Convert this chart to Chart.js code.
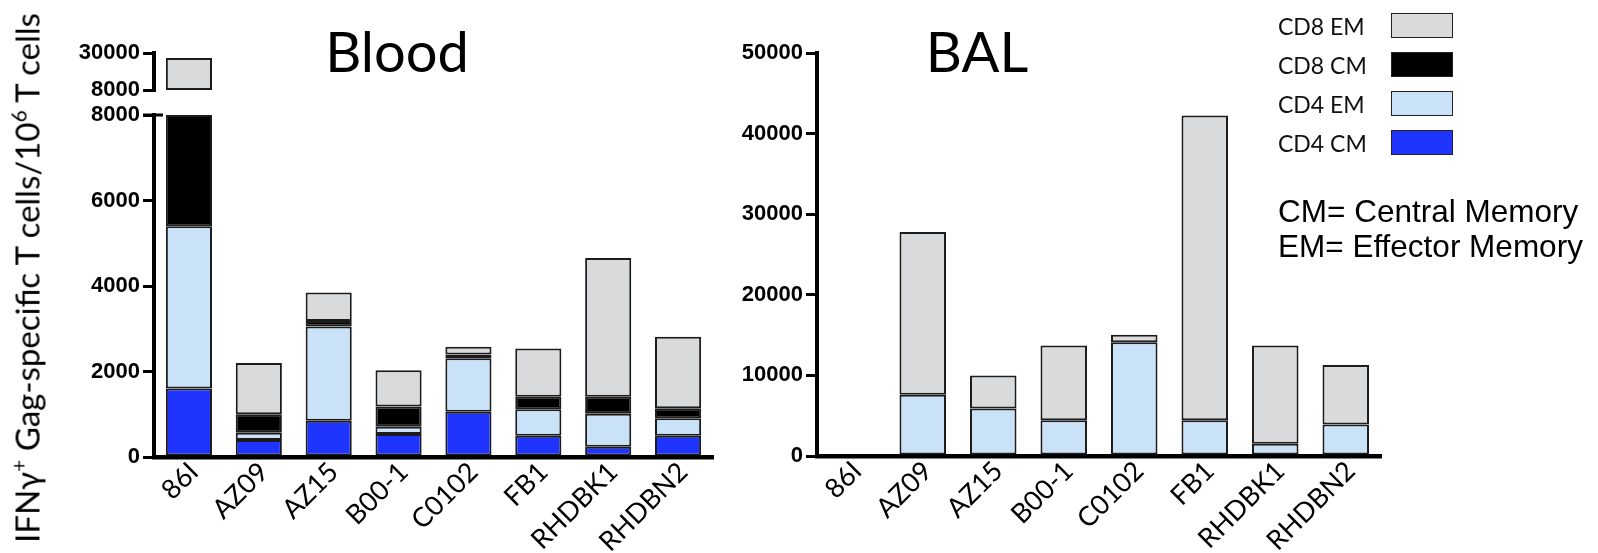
<!DOCTYPE html>
<html>
<head>
<meta charset="utf-8">
<script src="https://cdn.jsdelivr.net/npm/chart.js@4.4.1/dist/chart.umd.min.js"></script>
<style>
  html, body { margin: 0; padding: 0; background: #fff; }
  #wrap { position: relative; width: 1598px; height: 553px; overflow: hidden; background: #fff; }
  #wrap canvas { position: absolute; left: 0; top: 0; }
  .panel-title { position: absolute; font-family: Lato, "Noto Sans", sans-serif; font-size: 56px; color: #000; line-height: 1; white-space: nowrap; transform: translateX(-50%); }
  #ytitle { position: absolute; left: 27px; top: 278px; font-family: Lato, "Noto Sans", sans-serif; font-size: 33px; color: #000; white-space: nowrap; transform: translate(-50%, -50%) rotate(-90deg); line-height: 1; }
  #ytitle sup { font-size: 21px; vertical-align: 13px; line-height: 0; }
  #legend { position: absolute; left: 1278px; top: 13px; }
  .lg-row { position: relative; height: 39px; width: 180px; }
  .lg-row span { position: absolute; left: 0; top: 0; font-family: Lato, "Noto Sans", sans-serif; font-size: 23px; color: #111; line-height: 26px; white-space: nowrap; }
  .lg-row i { position: absolute; left: 113px; top: 0; width: 60px; height: 23px; border: 1.5px solid #222; display: block; }
  #notes { position: absolute; left: 1278px; top: 194px; font-family: "Liberation Sans", Arial, sans-serif; font-size: 31.5px; color: #000; line-height: 35px; white-space: nowrap; }
</style>
</head>
<body>
<div id="wrap">
  <canvas id="bloodLow" width="1598" height="553"></canvas>
  <canvas id="bloodHigh" width="1598" height="553"></canvas>
  <canvas id="bal" width="1598" height="553"></canvas>
  <div class="panel-title" style="left:397px; top:23px;">Blood</div>
  <div class="panel-title" style="left:977px; top:23px;">BAL</div>
  <div id="ytitle">IFNγ<sup>+</sup> Gag-specific T cells/10<sup>6</sup> T cells</div>
  <div id="legend"></div>
  <div id="notes">CM= Central Memory<br>EM= Effector Memory</div>
</div>
<script>
// Animal / isolate categories shared by both panels
const categories = ['86I', 'AZ09', 'AZ15', 'B00-1', 'C0102', 'FB1', 'RHDBK1', 'RHDBN2'];

// Blood: IFNγ+ Gag-specific cells per 10^6 T cells, by memory subset
const bloodCD4CM = [1600, 400, 850, 540, 1060, 500, 240, 500];
const bloodCD4EM = [3800, 170, 2200, 170, 1250, 615, 770, 405];
const bloodCD8CM = [2600, 430, 130, 470, 90, 295, 400, 235];
const bloodCD8EM = [19000, 1200, 670, 850, 180, 1130, 3245, 1670];

// BAL: same subsets
const balCD4CM = [0, 0, 0, 0, 0, 0, 0, 0];
const balCD4EM = [0, 7600, 5900, 4450, 14100, 4450, 1530, 3900];
const balCD8CM = [0, 0, 0, 0, 0, 0, 0, 0];
const balCD8EM = [0, 20200, 4100, 9250, 930, 37800, 12170, 7400];

// Axis ticks (Blood axis is broken between 8000 and 30000)
const bloodLowerTicks = [0, 2000, 4000, 6000, 8000];
const bloodUpperTicks = [8000, 30000];
const balTicks = [0, 10000, 20000, 30000, 40000, 50000];

const subsetNames = ['CD4 CM', 'CD4 EM', 'CD8 CM', 'CD8 EM'];
const subsetColors = ['#2034FF', '#C9E2F8', '#000000', '#D9DADB'];

const W = 1598, H = 553;
const Y_AXIS_W = 120;
const X_AXIS_H = 96;

// Short horizontal cap on the top of the lower Blood axis (axis-break marker)
const breakCap = {
  id: 'breakCap',
  afterDraw(chart, args, opts) {
    if (!opts.enabled) return;
    const { ctx, chartArea } = chart;
    ctx.save();
    ctx.strokeStyle = '#000';
    ctx.lineWidth = 3;
    ctx.beginPath();
    ctx.moveTo(chartArea.left - 11, chartArea.top);
    ctx.lineTo(chartArea.left + 9, chartArea.top);
    ctx.stroke();
    ctx.restore();
  }
};

function stackedSets(series) {
  return series.map((data, i) => ({
    label: subsetNames[i],
    data: data,
    backgroundColor: subsetColors[i],
    borderColor: '#1c1c1c',
    borderWidth: ctx => (ctx.raw ? 2 : 0),
    borderSkipped: false,
    stack: 's',
    clip: 0,
    categoryPercentage: 1,
    barPercentage: 0.66
  }));
}

function makeChart(id, series, area, yMin, yMax, yTicks, showX, cap) {
  const pad = {
    left: area.left - Y_AXIS_W,
    right: W - area.right,
    top: area.top,
    bottom: H - area.bottom - (showX ? X_AXIS_H : 0)
  };
  return new Chart(document.getElementById(id), {
    type: 'bar',
    data: { labels: categories, datasets: stackedSets(series) },
    plugins: [breakCap],
    options: {
      responsive: false,
      animation: false,
      devicePixelRatio: 1,
      layout: { padding: pad },
      plugins: { legend: { display: false }, tooltip: { enabled: false }, title: { display: false }, breakCap: { enabled: !!cap } },
      scales: {
        x: {
          display: showX,
          stacked: true,
          offset: true,
          afterFit: s => { if (showX) s.height = X_AXIS_H; },
          grid: { display: false },
          border: { display: true, width: 4.5, color: '#000' },
          ticks: {
            color: '#000',
            autoSkip: false,
            minRotation: 45,
            maxRotation: 45,
            padding: -9,
            labelOffset: 5,
            font: { family: 'Lato', size: 27 }
          }
        },
        y: {
          stacked: true,
          min: yMin,
          max: yMax,
          afterFit: s => { s.width = Y_AXIS_W; },
          afterBuildTicks: s => { s.ticks = yTicks.map(v => ({ value: v })); },
          grid: { display: true, drawOnChartArea: false, drawTicks: true, tickLength: 11, lineWidth: 3, color: '#000' },
          border: { display: true, width: 4, color: '#000' },
          ticks: {
            color: '#000',
            autoSkip: false,
            padding: 3,
            font: { family: 'Liberation Sans', size: 22, weight: 'bold' },
            callback: v => String(v)
          }
        }
      }
    }
  });
}

makeChart('bloodLow', [bloodCD4CM, bloodCD4EM, bloodCD8CM, bloodCD8EM],
  { left: 154, right: 713, top: 115, bottom: 457 }, 0, 8000, bloodLowerTicks, true, true);
makeChart('bloodHigh', [bloodCD4CM, bloodCD4EM, bloodCD8CM, bloodCD8EM],
  { left: 154, right: 713, top: 53, bottom: 90 }, 8000, 30000, bloodUpperTicks, false, false);
makeChart('bal', [balCD4CM, balCD4EM, balCD8CM, balCD8EM],
  { left: 817, right: 1381, top: 53, bottom: 456 }, 0, 50000, balTicks, true, false);

// Legend, top subset first
const legend = document.getElementById('legend');
for (let i = subsetNames.length - 1; i >= 0; i--) {
  const row = document.createElement('div');
  row.className = 'lg-row';
  const t = document.createElement('span');
  t.textContent = subsetNames[i];
  const sw = document.createElement('i');
  sw.style.background = subsetColors[i];
  row.appendChild(t);
  row.appendChild(sw);
  legend.appendChild(row);
}
</script>
</body>
</html>
